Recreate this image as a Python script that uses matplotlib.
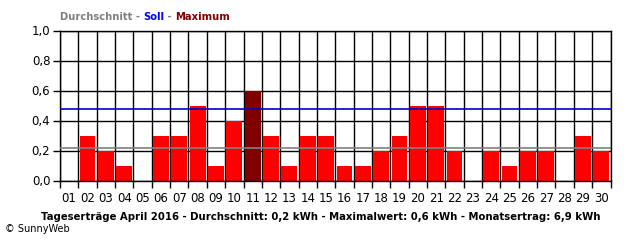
import matplotlib
matplotlib.use('Agg')
import matplotlib.pyplot as plt
import numpy as np

days = ['01', '02', '03', '04', '05', '06', '07', '08', '09', '10',
        '11', '12', '13', '14', '15', '16', '17', '18', '19', '20',
        '21', '22', '23', '24', '25', '26', '27', '28', '29', '30']
ertrag = [0.0, 0.3, 0.2, 0.1, 0.0, 0.3, 0.3, 0.5, 0.1, 0.4,
          0.6, 0.3, 0.1, 0.3, 0.3, 0.1, 0.1, 0.2, 0.3, 0.5,
          0.5, 0.2, 0.0, 0.2, 0.1, 0.2, 0.2, 0.0, 0.3, 0.2]
durchschnitt = 0.22
soll = 0.475
yticks = [0.0, 0.2, 0.4, 0.6, 0.8, 1.0]
ytick_labels = ['0,0', '0,2', '0,4', '0,6', '0,8', '1,0']
footer = 'Tageserträge April 2016 - Durchschnitt: 0,2 kWh - Maximalwert: 0,6 kWh - Monatsertrag: 6,9 kWh'

plt.rcParams['font.family'] = ['DejaVu Sans']

fig = plt.figure(figsize=(6.4, 2.4), dpi=100)
ax = fig.add_axes([60 / 640, 1 - 180.5 / 240, 550.5 / 640, 150 / 240])

x = np.arange(len(days))
max_val = max(ertrag)
colors = ['#800000' if v == max_val else '#ff0000' for v in ertrag]

# grid in black, bars on top of it, reference lines on top of bars
for yv in yticks:
    ax.axhline(yv, color='black', lw=1, zorder=1)
for xv in np.arange(len(days) + 1) - 0.5:
    ax.axvline(xv, color='black', lw=1, zorder=1)
ax.bar(x, ertrag, width=0.86, color=colors, zorder=2)
ax.axhline(durchschnitt, color='#808080', lw=1.2, zorder=3)
ax.axhline(soll, color='#0000cc', lw=1.2, zorder=3)

ax.set_xlim(-0.5, len(days) - 0.5)
ax.set_ylim(0, 1.0)
ax.set_yticks(yticks)
ax.set_yticklabels(ytick_labels)
ax.set_xticks(np.arange(len(days) + 1) - 0.5, minor=False)
ax.set_xticklabels([])
ax.set_xticks(x, minor=True)
ax.set_xticklabels(days, minor=True)
ax.tick_params(axis='x', which='major', length=5, width=1, color='black')
ax.tick_params(axis='x', which='minor', length=0, pad=8, labelsize=8.5)
ax.tick_params(axis='y', length=5, width=1, labelsize=8.5, pad=2)
for s in ax.spines.values():
    s.set_linewidth(1)

# legend title in three colours
t1 = fig.text(60 / 640, 1 - 17 / 240, 'Durchschnitt - ', color='#808080',
              fontsize=7.2, fontweight='bold', va='center')
t2 = ax.annotate('Soll', xy=(1, 0), xycoords=t1, color='#0000ff',
                 fontsize=7.2, fontweight='bold', va='bottom')
t3 = ax.annotate(' - ', xy=(1, 0), xycoords=t2, color='#808080',
                 fontsize=7.2, fontweight='bold', va='bottom')
ax.annotate('Maximum', xy=(1, 0), xycoords=t3, color='#800000',
            fontsize=7.2, fontweight='bold', va='bottom')

fig.text(321 / 640, 1 - 216.5 / 240, footer, ha='center', va='center',
         fontsize=7.25, fontweight='bold')
fig.text(5 / 640, 1 - 229 / 240, '© SunnyWeb', ha='left', va='center', fontsize=7)

fig.savefig('out.png', dpi=100)
